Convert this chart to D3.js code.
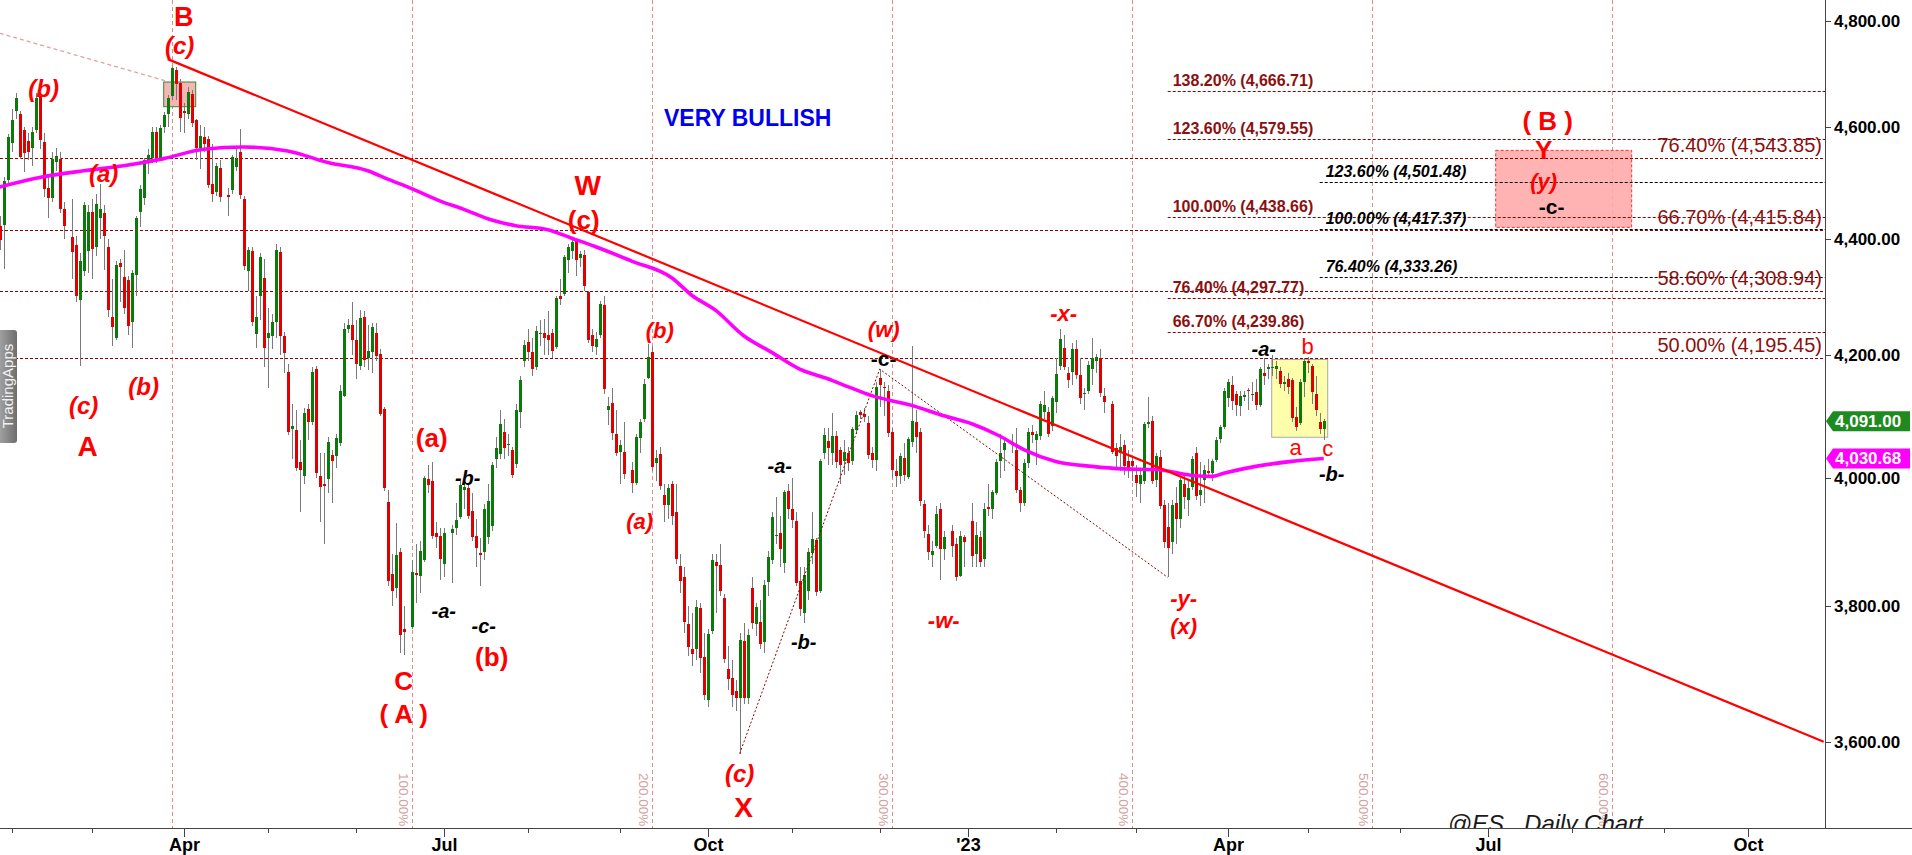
<!DOCTYPE html>
<html><head><meta charset="utf-8">
<script src="https://cdn.jsdelivr.net/npm/d3@7/dist/d3.min.js"></script>
<style>
html,body{margin:0;padding:0;background:#fff;overflow:hidden;}
svg{display:block;font-family:"Liberation Sans",Arial,sans-serif;}
</style></head><body>
<svg id="chart" width="1912" height="855"></svg>
<script>
// ---------------- DATA ----------------
const calStart = "2022-01-27";   // first weekday slot shown
const calEnd = "2023-10-31";     // last weekday slot of the time axis
// daily bars [open, high, low, close], one per weekday from calStart (null = no bar)
const ohlc = [
// 2022-01
[4423,4440,4380,4397],[4425,4510,4347,4502],[4504,4588,4498,4582],
// 2022-02
[4571,4634,4555,4614],[4630,4664,4616,4655],[4625,4630,4543,4546],[4596,4600,4519,4554],
[4575,4590,4540,4555],[4562,4600,4530,4591],[4596,4664,4590,4655],[4658,4664,4560,4576],[4573,4590,4474,4489],
[4490,4510,4436,4472],[4472,4555,4465,4543],[4537,4562,4520,4547],[4543,4555,4445,4453],[4453,4465,4400,4422],
null,[4403,4471,4330,4377],[4389,4405,4290,4300],[4293,4375,4182,4362],[4344,4465,4335,4459],
[4378,4460,4340,4447],
// 2022-03
[4447,4470,4330,4382],[4386,4480,4370,4461],[4436,4498,4400,4452],[4446,4460,4345,4404],
[4386,4400,4265,4276],[4264,4330,4215,4247],[4230,4362,4225,4354],[4357,4365,4290,4350],[4334,4380,4270,4280],
[4328,4335,4235,4250],[4257,4345,4213,4340],[4336,4440,4300,4437],[4447,4495,4420,4489],[4472,4545,4460,4541],
[4540,4560,4515,4549],[4544,4600,4535,4591],[4591,4600,4535,4543],[4543,4605,4538,4599],[4601,4628,4590,4622],
[4625,4660,4600,4655],[4657,4713,4650,4710],[4706,4712,4650,4681],[4683,4690,4592,4617],
// 2022-04
[4630,4645,4590,4626],
[4625,4675,4615,4666],[4661,4670,4600,4608],[4613,4616,4540,4562],[4562,4605,4525,4584],[4582,4600,4555,4570],
[4578,4585,4490,4495],[4498,4570,4465,4480],[4483,4535,4475,4530],[4526,4540,4465,4474],null,
[4477,4490,4440,4474],[4486,4550,4480,4546],[4528,4565,4520,4543],[4555,4597,4470,4477],[4471,4475,4345,4353],
[4344,4385,4310,4380],[4378,4385,4250,4257],[4236,4300,4212,4265],[4300,4375,4260,4368],[4331,4365,4180,4213],
// 2022-05
[4230,4280,4145,4237],[4232,4270,4210,4256],[4256,4390,4230,4380],[4377,4385,4200,4233],[4232,4240,4170,4204],
[4173,4185,4068,4073],[4079,4120,4030,4083],[4077,4110,4010,4016],[4025,4060,3945,4013],[4003,4112,3990,4105],
[4111,4120,4060,4089],[4089,4180,4085,4172],[4178,4183,4000,4008],[4002,4040,3930,3985],[3990,4040,3896,3986],
[3998,4065,3975,4057],[4037,4045,3960,4026],[4035,4070,4015,4063],[4056,4150,4051,4141],[4133,4254,4130,4244],
[4244,4262,4238,4252],[4252,4290,4200,4226],
// 2022-06
[4226,4260,4161,4185],[4182,4277,4175,4263],[4265,4275,4180,4193],
[4196,4251,4175,4207],[4205,4255,4170,4247],[4238,4255,4190,4199],[4202,4210,4100,4103],[4111,4115,3978,3983],
[3961,3980,3830,3839],[3849,3880,3800,3823],[3827,3929,3813,3879],[3883,3890,3729,3756],[3766,3800,3727,3761],
null,[3768,3870,3765,3852],[3850,3895,3805,3847],[3846,3900,3820,3885],[3871,4003,3868,3999],
[3998,4020,3975,3988],[3994,4025,3903,3908],[3912,3930,3890,3906],[3908,3920,3840,3873],
// 2022-07
[3865,3920,3845,3913],
null,[3913,3925,3835,3919],[3920,3960,3910,3933],[3938,3995,3935,3989],[3981,4000,3950,3985],
[3983,3990,3935,3940],[3947,3975,3900,3907],[3908,3935,3860,3889],[3881,3905,3830,3880],[3883,3958,3870,3950],
[3906,3990,3895,3963],[3923,4025,3915,4021],[4030,4065,4015,4047],[4038,4110,4030,4087],[4073,4095,4030,4048],
[4052,4070,4035,4054],[4044,4050,4000,4005],[4022,4120,4015,4110],[4106,4165,4080,4159],[4191,4225,4180,4218],
// 2022-08
[4222,4245,4190,4205],[4205,4230,4165,4178],[4181,4250,4175,4241],[4237,4260,4215,4238],[4237,4262,4200,4230],
[4234,4275,4200,4225],[4237,4245,4195,4208],[4214,4300,4210,4297],[4300,4330,4285,4296],[4304,4372,4300,4368],
[4363,4390,4340,4385],[4379,4398,4365,4394],[4396,4398,4335,4363],[4366,4378,4350,4373],[4372,4380,4310,4317],
[4307,4310,4220,4225],[4234,4245,4205,4216],[4214,4240,4200,4228],[4234,4292,4230,4287],[4286,4300,4135,4144],
[4110,4130,4085,4116],[4121,4145,4060,4072],[4070,4110,4035,4040],
// 2022-09
[4041,4060,3990,4053],[4041,4090,3998,4006],
null,[4013,4025,3975,3992],[3991,4070,3988,4066],[4063,4095,4040,4089],[4095,4160,4090,4153],
[4163,4219,4160,4198],[4205,4215,4010,4017],[4024,4045,3995,4032],[4038,4050,3980,3986],[3972,3990,3930,3956],
[3956,3990,3935,3983],[3990,3995,3925,3940],[3946,3990,3865,3873],[3862,3880,3820,3839],[3845,3860,3760,3776],
[3773,3800,3725,3738],[3736,3790,3710,3728],[3736,3810,3720,3799],[3797,3805,3700,3722],[3724,3760,3660,3668],
// 2022-10
[3661,3765,3650,3758],[3763,3880,3758,3871],[3868,3880,3790,3862],[3863,3895,3815,3823],[3813,3818,3715,3721],
[3706,3740,3675,3691],[3693,3720,3650,3667],[3674,3690,3645,3663],[3664,3760,3583,3749],[3748,3775,3655,3664],
[3664,3765,3655,3757],[3827,3845,3765,3774],[3773,3805,3755,3799],[3776,3810,3735,3743],[3746,3840,3730,3832],
[3837,3885,3815,3876],[3871,3945,3865,3938],[3908,3970,3895,3910],[3913,3940,3860,3888],[3866,3980,3850,3977],
[3978,3990,3935,3950],
// 2022-11
[3951,4000,3920,3933],[3931,3945,3830,3835],[3839,3860,3785,3795],[3790,3860,3775,3848],
[3823,3890,3810,3883],[3881,3945,3865,3903],[3901,3905,3815,3822],[3823,4030,3820,4026],[4040,4080,4030,4068],
[4059,4080,4020,4048],[4040,4105,4020,4067],[4067,4075,4015,4025],[4044,4050,3990,4021],[4026,4060,4005,4041],
[4040,4050,4010,4024],[4026,4082,4020,4078],[4077,4108,4070,4101],[4106,4110,4095,4101],[4103,4112,4090,4098],
[4088,4100,4030,4036],[4039,4050,4015,4029],[4028,4155,4010,4148],
// 2022-12
[4162,4177,4115,4150],[4147,4155,4100,4145],
[4141,4150,4065,4072],[4073,4080,4000,4013],[4010,4030,3985,4002],[4002,4040,3990,4034],[4032,4055,3995,4004],
[4001,4066,3998,4062],[4058,4216,4050,4092],[4090,4110,4040,4066],[4073,4080,3955,3963],[3958,3965,3905,3915],
[3911,3925,3870,3883],[3879,3900,3860,3885],[3893,3955,3890,3942],[3951,3960,3840,3887],[3887,3915,3870,3906],
null,[3916,3925,3875,3893],[3896,3905,3838,3844],[3846,3915,3845,3908],[3906,3910,3860,3898],
// 2023-01
null,[3931,3960,3860,3877],[3880,3930,3860,3910],[3907,3915,3860,3867],[3872,3960,3860,3951],
[3953,3990,3940,3950],[3951,3980,3935,3977],[3976,4030,3972,4025],[4026,4070,4000,4040],[4044,4065,4010,4055],
null,[4056,4070,4040,4053],[4045,4080,3975,3981],[3981,3985,3945,3959],[3960,4030,3955,4024],
[4024,4080,4015,4073],[4074,4085,4055,4068],[4060,4075,4020,4070],[4067,4125,4060,4119],[4106,4140,4095,4118],
[4106,4115,4065,4070],[4084,4132,4075,4129],
// 2023-02
[4122,4195,4105,4169],[4182,4245,4175,4228],[4213,4235,4175,4181],
[4170,4180,4145,4159],[4172,4220,4150,4211],[4211,4225,4160,4167],[4167,4195,4120,4129],[4135,4145,4110,4138],
[4141,4190,4135,4184],[4178,4230,4150,4195],[4190,4203,4170,4198],[4195,4210,4130,4137],[4132,4145,4105,4123],
null,[4119,4125,4038,4041],[4048,4055,4015,4035],[4040,4070,4010,4050],[4053,4060,4005,4018],
[4026,4045,4000,4013],[4026,4035,3995,4018],
// 2023-03
[4005,4020,3970,3991],[3990,4010,3960,4005],[3994,4090,3990,4087],
[4087,4130,4080,4090],[4092,4100,3990,3994],[3996,4040,3985,4035],[4033,4045,3950,3955],[3956,3965,3890,3899],
[3922,3960,3844,3890],[3899,3965,3880,3956],[3960,3985,3895,3935],[3934,4000,3920,3996],[3990,4005,3950,3970],
[3965,3995,3940,3983],[3985,4035,3980,4030],[4040,4050,3965,3971],[3973,4025,3955,3981],[3996,4020,3960,4013],
[4010,4030,4000,4007],[4007,4030,3995,4026],[4029,4065,4025,4061],[4062,4085,4055,4081],[4081,4145,4078,4141],
// 2023-04
[4129,4160,4115,4155],[4150,4165,4110,4125],[4135,4140,4100,4118],[4116,4140,4100,4133],[4130,4140,4125,4134],
[4142,4145,4110,4140],[4134,4155,4125,4136],[4139,4160,4110,4118],[4118,4180,4115,4177],[4170,4195,4150,4165],
[4177,4185,4160,4180],[4179,4200,4165,4181],[4178,4190,4160,4182],[4174,4180,4145,4152],[4152,4165,4140,4155],
[4161,4170,4135,4147],[4159,4162,4090,4096],[4098,4115,4075,4082],[4088,4160,4085,4155],[4155,4195,4130,4190],
// 2023-05
[4191,4198,4170,4187],[4182,4185,4120,4139],[4136,4165,4100,4110],[4090,4105,4070,4078],[4078,4095,4061,4091]
];

// 200-day moving average
const maDates = ["2022-01-27","2022-02-10","2022-02-25","2022-03-11","2022-03-25","2022-04-08","2022-04-22","2022-05-09","2022-05-23","2022-06-06","2022-06-13","2022-06-21","2022-06-30","2022-07-08","2022-07-19","2022-07-27","2022-08-08","2022-08-16","2022-08-24","2022-09-06","2022-09-20","2022-09-27","2022-10-05","2022-10-14","2022-10-25","2022-11-03","2022-11-14","2022-11-21","2022-11-29","2022-12-13","2022-12-23","2023-01-03","2023-01-12","2023-01-20","2023-02-01","2023-02-14","2023-02-24","2023-03-08","2023-03-22","2023-03-28","2023-03-31","2023-04-12","2023-04-25","2023-05-05"];
const maValues = [4492,4509,4521,4530,4543,4560,4564,4557,4536,4521,4506,4489,4467,4452,4433,4423,4416,4401,4386,4361,4332,4302,4276,4233,4205,4177,4161,4148,4133,4117,4100,4087,4067,4045,4026,4018,4014,4013,4003,4002,4007,4018,4026,4030.68];

const priceTicks = [3600,3800,4000,4200,4400,4600,4800];
const lastPrice = 4091.00;
const maLast = 4030.68;

// Fibonacci levels
const fullPct = ["76.40%","66.70%","58.60%","50.00%"];
const fullLevels = [4543.85,4415.84,4308.94,4195.45];
const extStart = "2023-03-13";
const extPct = ["138.20%","123.60%","100.00%","76.40%","66.70%"];
const extLevels = [4666.71,4579.55,4438.66,4297.77,4239.86];
const blkStart = "2023-05-04";
const blkPct = ["123.60%","100.00%","76.40%"];
const blkLevels = [4501.48,4417.37,4333.26];

// time-cycle lines
const cycleDates = ["2022-03-29","2022-06-21","2022-09-13","2022-12-06","2023-02-28","2023-05-23","2023-08-15"];
const cycleLabels = ["","100.00%","200.00%","300.00%","400.00%","500.00%","600.00%"];

// trend / wave lines  [date, price]
const trendLine = [["2022-03-28",4727],["2023-10-27",3600]];
const oldTrend = [["2022-01-27",4776],["2022-03-28",4685]];
const wavePath = [["2022-10-13",3583],["2022-12-01",4177],["2023-03-13",3844]];

// boxes [date1, date2, priceLow, priceHigh]
const boxB = ["2022-03-25","2022-04-06",4638,4684];
const boxYellow = ["2023-04-18","2023-05-08",4065,4193];
const boxZone = ["2023-07-05","2023-08-22",4420,4558];

// wave labels [text, date, price]
const topLabel = [["B","2022-04-01",4808]];
const redBig = [["W","2022-08-22",4495],["A","2022-02-28",4050],["X","2022-10-14",3507]];
const redMid = [["C","2022-06-17",3688],["( A )","2022-06-17",3640],["( B )","2023-07-24",4612],["Y","2023-07-21",4558]];
const redUpright = [["(c)","2022-08-19",4433],["(a)","2022-06-28",4063],["(b)","2022-07-19",3724]];
const redItalic = [["(c)","2022-03-31",4753],["(b)","2022-02-11",4672],["(a)","2022-03-04",4515],["(c)","2022-02-25",4116],["(b)","2022-03-18",4148],["(c)","2022-10-13",3554]];
const redItalicSm = [["(b)","2022-09-15",4242],["(w)","2022-12-02",4244],["(a)","2022-09-08",3931],["-x-","2023-02-03",4271],["-w-","2022-12-23",3779],["-y-","2023-03-17",3812],["(x)","2023-03-17",3770],["(y)","2023-07-21",4501]];
const blackItalic = [["-b-","2022-07-11",3999],["-a-","2022-07-01",3793],["-c-","2022-07-15",3770],["-a-","2022-10-27",4018],["-b-","2022-11-04",3746],["-a-","2023-04-14",4210],["-b-","2023-05-09",4006]];
const blackUpright = [["-c-","2022-12-02",4194],["-c-","2023-07-25",4457]];
const redPlain = [["b","2023-05-01",4215],["a","2023-04-26",4048],["c","2023-05-08",4046]];
const headline = ["VERY BULLISH","2022-10-17",4618];
const footer = ["@ES_ Daily Chart","2023-06-19",3473];

// ---------------- CHART ----------------
const W = 1912, H = 855, PR = 1825, PB = 828;
function weekdays(a, b){
  const out = []; let d = new Date(a+"T00:00:00Z"); const e = new Date(b+"T00:00:00Z");
  while (d <= e){ const w = d.getUTCDay(); if (w !== 0 && w !== 6) out.push(d.toISOString().slice(0,10)); d = new Date(d.getTime()+86400000); }
  return out;
}
const cal = weekdays(calStart, calEnd);
const idx = new Map(cal.map((d,i)=>[d,i]));
const x = d3.scaleLinear().domain([0.075, 0.075 + PR/4]).range([0, PR]);
const y = d3.scaleLog().domain([3600, 4800]).range([741.7, 20.7]);
const X = d => x(idx.get(d));
const fmt = d3.format(",.2f");

const svg = d3.select("#chart");
const defs = svg.append("defs");
defs.append("clipPath").attr("id","plot").append("rect").attr("x",0).attr("y",0).attr("width",PR).attr("height",PB);
const lg = defs.append("linearGradient").attr("id","logo").attr("x1","0").attr("x2","1");
lg.append("stop").attr("offset","0").attr("stop-color","#a8a8a8");
lg.append("stop").attr("offset","1").attr("stop-color","#6e6e6e");

svg.append("rect").attr("width",W).attr("height",H).attr("fill","#fff");
const plot = svg.append("g").attr("clip-path","url(#plot)");

// cycle lines
const cyc = plot.append("g");
cyc.selectAll("line").data(cycleDates).join("line")
  .attr("x1",d=>Math.round(X(d))+0.5).attr("x2",d=>Math.round(X(d))+0.5)
  .attr("y1",0).attr("y2",PB).attr("stroke","#e08c8c").attr("stroke-width",1).attr("stroke-dasharray","4,3");
cyc.selectAll("text").data(cycleDates.map((d,i)=>[d,cycleLabels[i]]).filter(d=>d[1])).join("text")
  .attr("transform",d=>`translate(${Math.round(X(d[0]))-13},773) rotate(90)`)
  .attr("font-size",13.5).attr("fill","#d3a3a3").text(d=>d[1]);

// boxes
function box(g, b, fill, stroke, dash, op){
  g.append("rect").attr("x",X(b[0])).attr("width",X(b[1])-X(b[0]))
   .attr("y",y(b[3])).attr("height",y(b[2])-y(b[3]))
   .attr("fill",fill).attr("fill-opacity",op).attr("stroke",stroke).attr("stroke-width",1)
   .attr("stroke-dasharray",dash);
}
const boxes = plot.append("g");
box(boxes, boxZone, "#ffa8a8", "#ff3030", "3,2", 0.88);
box(boxes, boxYellow, "#ffff9c", "#a8a8a8", null, 0.85);
box(boxes, boxB, "#f4a8a8", "#2e8b2e", null, 0.85);

// horizontal levels
const lv = plot.append("g");
lv.selectAll("line.full").data(fullLevels).join("line").attr("class","full")
  .attr("x1",0).attr("x2",PR).attr("y1",d=>Math.round(y(d))+0.5).attr("y2",d=>Math.round(y(d))+0.5)
  .attr("stroke","#8b0000").attr("stroke-width",1.2).attr("stroke-dasharray","3,2");
lv.selectAll("line.ext").data(extLevels).join("line").attr("class","ext")
  .attr("x1",X(extStart)).attr("x2",PR).attr("y1",d=>Math.round(y(d))+0.5).attr("y2",d=>Math.round(y(d))+0.5)
  .attr("stroke","#8b0000").attr("stroke-width",1.2).attr("stroke-dasharray","3,2");
lv.selectAll("line.blk").data(blkLevels).join("line").attr("class","blk")
  .attr("x1",X(blkStart)).attr("x2",PR).attr("y1",d=>Math.round(y(d))+0.5).attr("y2",d=>Math.round(y(d))+0.5)
  .attr("stroke","#000").attr("stroke-width",1.2).attr("stroke-dasharray","3,2");

// candles
const candles = ohlc.map((c,k)=>c?{k,o:c[0],h:c[1],l:c[2],c:c[3]}:null).filter(Boolean);
const cg = plot.append("g").attr("shape-rendering","crispEdges");
cg.selectAll("line").data(candles).join("line")
  .attr("x1",d=>Math.round(x(d.k))+0.5).attr("x2",d=>Math.round(x(d.k))+0.5)
  .attr("y1",d=>y(d.h)).attr("y2",d=>y(d.l)).attr("stroke","#7a7a7a").attr("stroke-width",1);
cg.selectAll("rect").data(candles).join("rect")
  .attr("x",d=>Math.round(x(d.k))-1).attr("width",3)
  .attr("y",d=>y(Math.max(d.o,d.c))).attr("height",d=>Math.max(1.2,Math.abs(y(d.o)-y(d.c))))
  .attr("fill",d=>d.c>=d.o?"#0a7a0a":"#e00000");

// lines
const line = d3.line().x(d=>X(d[0])).y(d=>y(d[1]));
plot.append("path").attr("d",line(oldTrend)).attr("fill","none").attr("stroke","#e4a0a0").attr("stroke-width",1.3).attr("stroke-dasharray","4,3");
plot.append("path").attr("d",line(wavePath)).attr("fill","none").attr("stroke","#8b0000").attr("stroke-width",1).attr("stroke-dasharray","2,2");
const maLine = d3.line().x(d=>X(d[0])).y(d=>y(d[1])).curve(d3.curveMonotoneX);
plot.append("path").attr("d",maLine(maDates.map((d,i)=>[d,maValues[i]]))).attr("fill","none").attr("stroke","#ff00ff").attr("stroke-width",3.6).attr("stroke-linejoin","round");
plot.append("path").attr("d",line(trendLine)).attr("fill","none").attr("stroke","#ff0000").attr("stroke-width",2.2);

// level labels
const lt = svg.append("g");
lt.selectAll("text.full").data(fullLevels).join("text").attr("class","full")
  .attr("x",PR-3).attr("y",d=>y(d)-6).attr("text-anchor","end").attr("font-size",20).attr("fill","#8b1010")
  .text((d,i)=>`${fullPct[i]} (${fmt(d)})`);
lt.selectAll("text.ext").data(extLevels).join("text").attr("class","ext")
  .attr("x",X(extStart)+5).attr("y",d=>y(d)-5).attr("font-size",16).attr("font-weight","bold").attr("fill","#8b1010")
  .text((d,i)=>`${extPct[i]} (${fmt(d)})`);
lt.selectAll("text.blk").data(blkLevels).join("text").attr("class","blk")
  .attr("x",X(blkStart)+6).attr("y",d=>y(d)-5).attr("font-size",16).attr("font-weight","bold").attr("font-style","italic").attr("fill","#000")
  .text((d,i)=>`${blkPct[i]} (${fmt(d)})`);

// wave labels
function labels(arr, size, weight, style, color){
  plot.append("g").selectAll("text").data(arr).join("text")
    .attr("x",d=>X(d[1])).attr("y",d=>y(d[2])+0.34*size).attr("text-anchor","middle")
    .attr("font-size",size).attr("font-weight",weight).attr("font-style",style).attr("fill",color).text(d=>d[0]);
}
labels(topLabel, 27, "bold", "normal", "#ff0000");
labels(redBig, 28, "bold", "normal", "#ff0000");
labels(redMid, 26, "bold", "normal", "#ff0000");
labels(redUpright, 26, "bold", "normal", "#ff0000");
labels(redItalic, 24, "bold", "italic", "#ff0000");
labels(redItalicSm, 22, "bold", "italic", "#ff0000");
labels(blackItalic, 20, "bold", "italic", "#000");
labels(blackUpright, 21, "bold", "normal", "#000");
labels(redPlain, 22, "normal", "normal", "#ff0000");
plot.append("text").attr("x",X(headline[1])).attr("y",y(headline[2])+8).attr("text-anchor","middle")
  .attr("font-size",23).attr("font-weight","bold").attr("fill","#0000f0").text(headline[0]);
plot.append("text").attr("x",X(footer[1])).attr("y",y(footer[2])).attr("font-size",24).attr("font-style","italic")
  .attr("fill","#1a1a1a").text(footer[0]);

// axes
const ax = svg.append("g").attr("shape-rendering","crispEdges");
ax.append("line").attr("x1",0).attr("x2",W).attr("y1",PB+0.5).attr("y2",PB+0.5).attr("stroke","#444");
ax.append("line").attr("x1",PR+0.5).attr("x2",PR+0.5).attr("y1",0).attr("y2",PB).attr("stroke","#444");
// month ticks
const months = [];
cal.forEach((d,i)=>{ const m = d.slice(0,7); if (i>0 && cal[i-1].slice(0,7)!==m) months.push(d); });
const majorName = {"01":"'","04":"Apr","07":"Jul","10":"Oct"};
months.forEach(d=>{
  const xm = Math.round(X(d))+0.5; if (xm > PR) return;
  const mm = d.slice(5,7); const major = majorName[mm] !== undefined;
  ax.append("line").attr("x1",xm).attr("x2",xm).attr("y1",PB).attr("y2",PB+(major?9:5)).attr("stroke","#444");
  if (major){
    const lab = mm==="01" ? "'"+d.slice(2,4) : majorName[mm];
    svg.append("text").attr("x",xm).attr("y",851).attr("text-anchor","middle").attr("font-size",18)
      .attr("font-weight","bold").attr("fill","#000").text(lab);
  }
});
// price ticks
priceTicks.forEach(p=>{
  const yy = Math.round(y(p))+0.5;
  ax.append("line").attr("x1",PR).attr("x2",PR+6).attr("y1",yy).attr("y2",yy).attr("stroke","#444");
  svg.append("text").attr("x",PR+9).attr("y",y(p)+6).attr("font-size",17).attr("font-weight","bold").attr("fill","#000").text(fmt(p));
});
// price tags
function tag(p, color){
  const c = y(p);
  svg.append("path").attr("d",`M${PR+1},${c} L${PR+8},${c-10} L${W-2},${c-10} L${W-2},${c+10} L${PR+8},${c+10} Z`).attr("fill",color);
  svg.append("text").attr("x",PR+10).attr("y",c+6).attr("font-size",17).attr("font-weight","bold").attr("fill","#fff").text(fmt(p));
}
tag(lastPrice, "#1f8a1f");
tag(maLast, "#ff00ff");

// logo
svg.append("rect").attr("x",-3).attr("y",330).attr("width",20).attr("height",113).attr("rx",3).attr("fill","url(#logo)");
svg.append("text").attr("transform","translate(13,386) rotate(-90)").attr("text-anchor","middle")
  .attr("font-size",15).attr("fill","#f2f2f2").text("TradingApps");
</script>
</body></html>
